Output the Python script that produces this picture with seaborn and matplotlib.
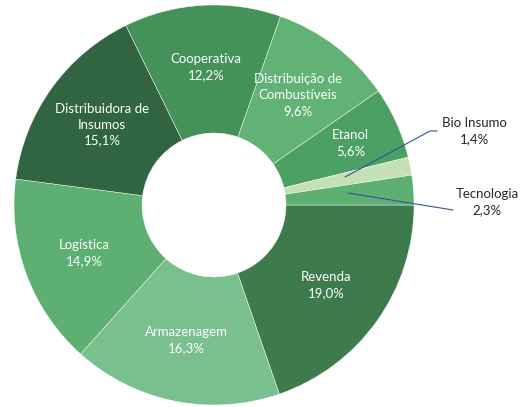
import numpy as np
import seaborn as sns
import matplotlib.pyplot as plt

# dados do gráfico (sentido horário a partir das 3 horas)
categorias = ['Revenda', 'Armazenagem', 'Logística', 'Distribuidora de\nInsumos',
              'Cooperativa', 'Distribuição de\nCombustíveis', 'Etanol', 'Bio Insumo', 'Tecnologia']
valores = [19.0, 16.3, 14.9, 15.1, 12.2, 9.6, 5.6, 1.4, 2.3]
rotulos = ['19,0%', '16,3%', '14,9%', '15,1%', '12,2%', '9,6%', '5,6%', '1,4%', '2,3%']
cores = ['#3D7B4C', '#7ABF8E', '#5DAF72', '#316440', '#45915A',
         '#62B276', '#4CA063', '#C5E0B4', '#5DAF72']

sns.set_theme(style='white')
plt.rcParams['font.family'] = ['Lato', 'DejaVu Sans']

fig = plt.figure(figsize=(5.29, 4.07), dpi=100)
ax = fig.add_axes([0, 0, 1, 1])

wedges, _ = ax.pie(valores, colors=cores, startangle=0, counterclock=False,
                   radius=1.0, wedgeprops=dict(width=0.64, linewidth=0.3, edgecolor='white'))

# rótulos internos
for i, w in enumerate(wedges):
    if categorias[i] in ('Bio Insumo', 'Tecnologia'):
        continue
    ang = np.deg2rad((w.theta1 + w.theta2) / 2)
    r = 0.75 if categorias[i] == 'Etanol' else 0.69
    ax.text(r * np.cos(ang), r * np.sin(ang), categorias[i] + '\n' + rotulos[i],
            ha='center', va='center', color='white', fontsize=9.5, linespacing=1.4)

# rótulos externos com linhas de chamada
azul = '#2F5597'
ax.plot([0.655, 1.08, 1.115], [0.14, 0.37, 0.37], color=azul, lw=0.8)
ax.text(1.30, 0.37, 'Bio Insumo\n' + rotulos[7], ha='center', va='center',
        color='#262626', fontsize=9.5, linespacing=1.4)
ax.plot([0.67, 1.195], [0.06, -0.025], color=azul, lw=0.8)
ax.text(1.365, 0.015, 'Tecnologia\n' + rotulos[8], ha='center', va='center',
        color='#262626', fontsize=9.5, linespacing=1.4)

ax.set_xlim(-1.07, 1.575)
ax.set_ylim(-1.01, 1.025)
ax.set_aspect('auto')
ax.axis('off')

fig.savefig('out.png', dpi=100)
